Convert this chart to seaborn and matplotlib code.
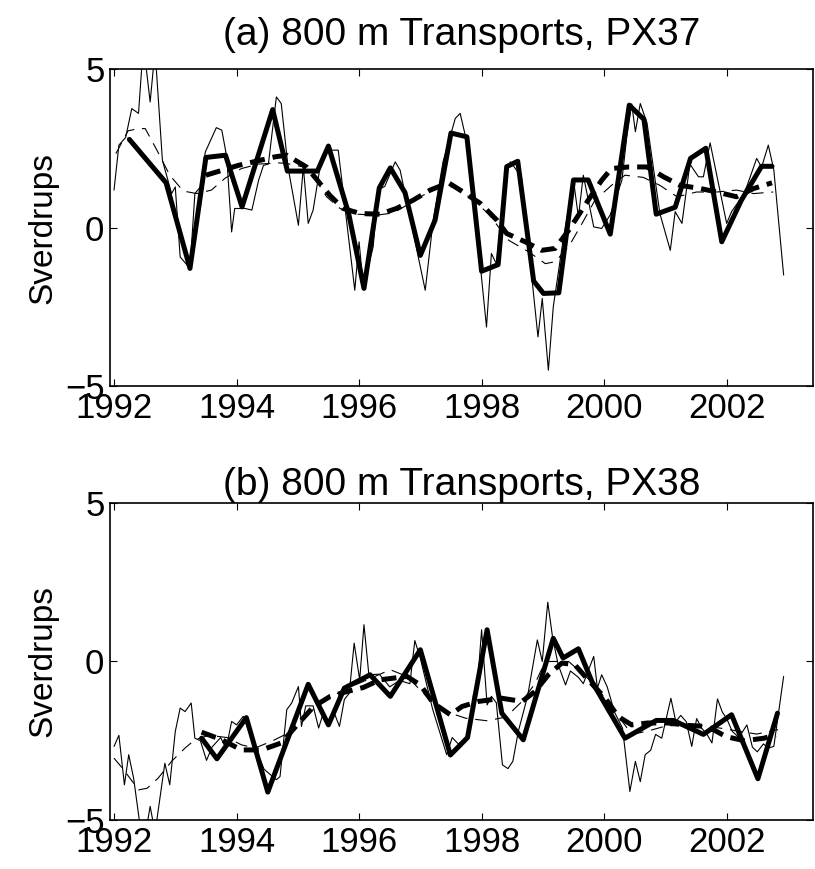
import matplotlib
matplotlib.use("Agg")
import matplotlib.pyplot as plt
import seaborn as sns
import pandas as pd

# ---- PX37 ----
px37_month_t = [1992.00, 1992.08, 1992.19, 1992.29, 1992.40, 1992.48, 1992.59, 1992.67, 1992.79,
                1992.94, 1993.00, 1993.08, 1993.24, 1993.32, 1993.41, 1993.49, 1993.67, 1993.76,
                1993.84, 1993.92, 1993.97, 1994.14, 1994.25, 1994.36, 1994.44, 1994.52, 1994.65,
                1994.73, 1994.84, 1995.01, 1995.09, 1995.17, 1995.25, 1995.39, 1995.50, 1995.66,
                1995.93, 1996.00, 1996.07, 1996.23, 1996.31, 1996.42, 1996.59, 1996.67, 1997.08,
                1997.21, 1997.37, 1997.57, 1997.65, 1997.79, 1998.08, 1998.16, 1998.24, 1998.41,
                1998.47, 1998.65, 1998.92, 1998.99, 1999.09, 1999.17, 1999.33, 1999.50, 1999.58,
                1999.66, 1999.83, 1999.96, 2000.10, 2000.29, 2000.37, 2000.45, 2000.51, 2000.59,
                2000.70, 2000.91, 2001.08, 2001.16, 2001.27, 2001.40, 2001.54, 2001.62, 2001.73,
                2002.00, 2002.08, 2002.25, 2002.33, 2002.49, 2002.57, 2002.68, 2002.77, 2002.93]
px37_month_v = [1.18, 2.60, 2.84, 3.75, 3.60, 5.80, 3.96, 5.60, 2.12,
                1.07, 1.28, -0.93, -1.29, 1.07, 1.28, 2.38, 3.15, 3.07,
                2.23, -0.14, 0.60, 0.60, 0.55, 1.49, 1.96, 2.00, 4.12,
                3.91, 1.91, 0.07, 1.91, 0.13, 0.55, 2.23, 2.44, 2.44,
                -1.98, -0.45, -1.87, -0.61, 1.18, 1.30, 2.07, 1.81, -1.98,
                0.23, 2.07, 3.44, 3.60, 2.44, -3.14, -0.82, -1.14, 1.80,
                2.07, 1.60, -3.45, -2.24, -4.50, -2.50, -0.40, 1.49, 0.33,
                1.65, 0.02, -0.03, 0.40, 1.49, 2.86, 3.90, 3.02, 3.91,
                3.30, 0.44, -0.72, 0.50, 0.13, 2.00, 1.60, 1.60, 2.67,
                0.13, 0.50, 0.97, 1.30, 2.18, 1.90, 2.60, 1.81, -1.50]

px37_month_smooth_t = [1992.03, 1992.23, 1992.40, 1992.51, 1992.70, 1992.91, 1993.13, 1993.35, 1993.59,
                       1993.81, 1994.08, 1994.36, 1994.68, 1994.82, 1995.09, 1995.28, 1995.47, 1995.69,
                       1995.96, 1996.29, 1996.56, 1996.83, 1997.05, 1997.32, 1997.57, 1997.79, 1998.11,
                       1998.44, 1998.77, 1999.04, 1999.20, 1999.42, 1999.64, 1999.85, 2000.12, 2000.34,
                       2000.64, 2000.91, 2001.19, 2001.51, 2001.84, 2002.16, 2002.44, 2002.76]
px37_month_smooth_v = [2.33, 3.05, 3.12, 3.12, 2.44, 1.65, 1.15, 1.07, 1.18,
                       1.55, 1.86, 2.00, 2.04, 2.02, 1.91, 1.55, 0.97, 0.60,
                       0.42, 0.39, 0.46, 0.76, 1.02, 1.30, 1.28, 0.97, 0.44,
                       -0.40, -0.77, -1.14, -1.08, -0.61, 0.13, 0.86, 1.33, 1.65,
                       1.58, 1.33, 0.97, 1.12, 1.12, 1.18, 1.07, 1.12]

px37_cruise_t = [1992.25, 1992.85, 1993.24, 1993.50, 1993.82, 1994.09, 1994.59, 1994.83, 1995.32,
                 1995.50, 1995.83, 1996.08, 1996.33, 1996.51, 1996.75, 1997.00, 1997.24, 1997.50,
                 1997.76, 1998.00, 1998.27, 1998.41, 1998.59, 1998.85, 1999.01, 1999.26, 1999.50,
                 1999.74, 2000.10, 2000.41, 2000.65, 2000.85, 2001.16, 2001.41, 2001.66, 2001.92,
                 2002.24, 2002.57, 2002.74]
px37_cruise_v = [2.78, 1.41, -1.29, 2.21, 2.28, 0.65, 3.72, 1.78, 1.78,
                 2.57, 0.44, -1.92, 1.25, 1.88, 1.10, -0.88, 0.23, 2.98,
                 2.86, -1.38, -1.17, 1.92, 2.09, -1.69, -2.08, -2.06, 1.50,
                 1.50, -0.21, 3.86, 3.41, 0.42, 0.64, 2.18, 2.50, -0.45,
                 0.86, 1.93, 1.93]

px37_cruise_smooth_t = [1993.50, 1994.03, 1994.63, 1994.82, 1995.14, 1995.52, 1995.74, 1996.02, 1996.34,
                        1996.61, 1996.88, 1997.16, 1997.46, 1997.65, 1997.98, 1998.25, 1998.41, 1998.71,
                        1998.98, 1999.20, 1999.42, 1999.74, 1999.96, 2000.12, 2000.40, 2000.70, 2000.97,
                        2001.24, 2001.57, 2001.84, 2002.16, 2002.44, 2002.74]
px37_cruise_smooth_v = [1.65, 1.96, 2.23, 2.28, 1.91, 1.02, 0.60, 0.44, 0.42,
                        0.60, 0.86, 1.18, 1.41, 1.18, 0.76, 0.23, -0.19, -0.45,
                        -0.72, -0.66, -0.09, 0.86, 1.49, 1.86, 1.91, 1.91, 1.60,
                        1.33, 1.23, 1.12, 0.97, 1.23, 1.41]

# ---- PX38 ----
px38_month_t = [1992.00, 1992.08, 1992.17, 1992.24, 1992.32, 1992.42, 1992.50, 1992.59, 1992.67,
                1992.83, 1992.91, 1993.00, 1993.08, 1993.16, 1993.26, 1993.32, 1993.41, 1993.51,
                1993.60, 1993.74, 1993.83, 1993.92, 1994.00, 1994.11, 1994.28, 1994.45, 1994.65,
                1994.71, 1994.82, 1994.90, 1995.01, 1995.06, 1995.13, 1995.25, 1995.34, 1995.42,
                1995.50, 1995.59, 1995.68, 1995.76, 1995.84, 1995.92, 1996.01, 1996.08, 1996.16,
                1996.33, 1996.50, 1996.66, 1996.83, 1996.91, 1997.00, 1997.20, 1997.43, 1997.52,
                1997.62, 1997.79, 1997.87, 1997.92, 1998.00, 1998.09, 1998.16, 1998.24, 1998.34,
                1998.43, 1998.51, 1998.60, 1998.75, 1998.91, 1998.99, 1999.08, 1999.16, 1999.25,
                1999.37, 1999.45, 1999.58, 1999.66, 1999.83, 1999.89, 1999.96, 2000.05, 2000.17,
                2000.30, 2000.42, 2000.51, 2000.59, 2000.67, 2000.76, 2000.84, 2000.94, 2001.09,
                2001.17, 2001.25, 2001.34, 2001.43, 2001.51, 2001.59, 2001.68, 2001.76, 2001.85,
                2001.93, 2002.00, 2002.09, 2002.20, 2002.33, 2002.42, 2002.50, 2002.60, 2002.68,
                2002.77, 2002.93]
px38_month_v = [-2.68, -2.33, -3.89, -2.94, -3.68, -5.10, -5.60, -4.57, -5.40,
                -3.21, -3.89, -2.21, -1.47, -1.58, -1.31, -2.42, -2.50, -3.12,
                -2.70, -2.40, -2.75, -1.89, -2.00, -1.73, -2.60, -3.40, -3.73,
                -3.63, -1.52, -1.31, -0.79, -2.05, -1.40, -1.40, -2.10, -1.60,
                -2.00, -1.60, -2.05, -1.20, -1.00, 0.58, -0.58, 1.16, -0.42,
                -0.40, -0.80, -0.60, -0.70, 0.66, 0.10, -1.50, -2.94, -2.40,
                -2.60, -2.42, -1.00, -1.05, 1.00, -1.37, -1.10, -1.30, -3.26,
                -3.38, -3.15, -2.20, -1.10, 0.68, 0.00, 1.87, 0.74, -0.10,
                -0.74, -0.30, -0.50, -0.70, 0.16, -0.84, -0.42, -0.80, -1.60,
                -2.10, -4.10, -3.15, -3.79, -2.94, -2.80, -2.30, -2.42, -1.16,
                -1.90, -1.70, -1.90, -2.68, -1.80, -2.10, -2.30, -2.57, -1.18,
                -1.60, -1.80, -2.20, -2.40, -2.00, -2.70, -2.85, -2.60, -2.73,
                -2.68, -0.47]

px38_month_smooth_t = [1992.00, 1992.13, 1992.26, 1992.40, 1992.54, 1992.72, 1992.94, 1993.16, 1993.32,
                       1993.55, 1993.85, 1994.08, 1994.30, 1994.57, 1994.79, 1994.98, 1995.25, 1995.47,
                       1995.75, 1996.07, 1996.51, 1996.78, 1997.05, 1997.32, 1997.74, 1998.09, 1998.40,
                       1998.66, 1998.87, 1999.04, 1999.42, 1999.63, 1999.85, 2000.18, 2000.45, 2000.70,
                       2000.98, 2001.39, 2001.89, 2002.20, 2002.49, 2002.84]
px38_month_smooth_v = [-3.05, -3.35, -3.68, -4.05, -4.00, -3.68, -3.15, -2.73, -2.47,
                       -2.33, -2.40, -2.63, -2.73, -2.52, -2.31, -1.84, -1.52, -1.21,
                       -0.89, -0.63, -0.26, -0.47, -1.00, -1.52, -1.79, -1.87, -1.75,
                       -1.26, -0.70, 0.00, 0.00, -0.35, -0.74, -1.58, -2.30, -2.20,
                       -2.05, -1.97, -2.10, -2.20, -2.29, -2.15]

px38_cruise_t = [1993.43, 1993.68, 1994.16, 1994.51, 1995.17, 1995.50, 1995.76, 1996.18, 1996.51,
                 1997.00, 1997.49, 1997.77, 1998.09, 1998.33, 1998.68, 1999.17, 1999.33, 1999.58,
                 1999.80, 2000.34, 2000.85, 2001.13, 2001.62, 2002.08, 2002.51, 2002.83]
px38_cruise_v = [-2.42, -3.07, -1.77, -4.12, -0.72, -2.00, -0.84, -0.42, -1.10,
                 0.37, -2.95, -2.40, 1.00, -1.63, -2.47, 0.73, 0.11, 0.40,
                 -0.63, -2.42, -1.86, -1.86, -2.30, -1.68, -3.70, -1.63]

px38_cruise_smooth_t = [1993.43, 1993.76, 1994.08, 1994.41, 1994.73, 1995.04, 1995.26, 1995.53, 1995.80,
                        1996.07, 1996.34, 1996.78, 1997.00, 1997.21, 1997.49, 1997.68, 1997.95, 1998.33,
                        1998.66, 1998.87, 1999.09, 1999.31, 1999.52, 1999.74, 2000.02, 2000.23, 2000.45,
                        2000.71, 2001.04, 2001.39, 2001.69, 2001.99, 2002.29, 2002.61, 2002.80]
px38_cruise_smooth_v = [-2.23, -2.47, -2.79, -2.79, -2.57, -1.89, -1.42, -1.10, -0.95,
                        -0.82, -0.58, -0.47, -0.74, -1.31, -1.68, -1.42, -1.26, -1.16,
                        -1.26, -0.95, -0.42, -0.05, -0.10, -0.58, -1.16, -1.74, -2.00,
                        -1.94, -1.94, -2.02, -2.05, -2.37, -2.50, -2.42, -2.31]

titles = ["(a) 800 m Transports, PX37", "(b) 800 m Transports, PX38"]
title_pads = [17, 6]
year_ticks = [1992, 1994, 1996, 1998, 2000, 2002]
value_ticks = [-5, 0, 5]

sns.set_theme(style="white")
plt.rcParams["font.family"] = ["Liberation Sans", "DejaVu Sans"]
plt.rcParams["axes.unicode_minus"] = True
plt.rcParams["text.color"] = "black"
plt.rcParams["axes.labelcolor"] = "black"

fig = plt.figure(figsize=(8.15, 8.69), dpi=100)
ax_top = fig.add_axes([0.135, 0.5558, 0.8626, 0.3648])
ax_bot = fig.add_axes([0.135, 0.0564, 0.8626, 0.3648])

panels = [
    (ax_top, px37_month_t, px37_month_v, px37_month_smooth_t, px37_month_smooth_v,
     px37_cruise_t, px37_cruise_v, px37_cruise_smooth_t, px37_cruise_smooth_v),
    (ax_bot, px38_month_t, px38_month_v, px38_month_smooth_t, px38_month_smooth_v,
     px38_cruise_t, px38_cruise_v, px38_cruise_smooth_t, px38_cruise_smooth_v),
]

for (ax, mt, mv, mst, msv, ct, cv, cst, csv), title, tpad in zip(panels, titles, title_pads):
    def draw(t, v, **kw):
        df = pd.DataFrame({"year": t, "sv": v})
        sns.lineplot(data=df, x="year", y="sv", ax=ax, sort=False, estimator=None,
                     color="black", **kw)
    draw(mt, mv, linewidth=0.8)
    draw(mst, msv, linewidth=0.8, linestyle=(0, (11, 7)))
    draw(ct, cv, linewidth=3.6)
    draw(cst, csv, linewidth=3.6, linestyle=(0, (3.0, 1.6)))

    ax.set_xlim(1991.935, 2003.41)
    ax.set_ylim(-5, 5)
    ax.set_xticks(year_ticks)
    ax.set_yticks(value_ticks)
    ax.set_xlabel("")
    ax.set_ylabel("Sverdrups", fontsize=24, color="black")
    ax.yaxis.set_label_coords(-0.073, 0.5)
    ax.set_title(title, fontsize=28, pad=tpad, color="black")
    ax.tick_params(axis="both", which="both", direction="in", length=5, width=0.8,
                   top=True, right=True, bottom=True, left=True,
                   labelsize=25, pad=4, colors="black")
    for s in ax.spines.values():
        s.set_visible(True)
        s.set_color("black")
        s.set_linewidth(1.2)

fig.savefig("out.png", dpi=100, facecolor="white")
